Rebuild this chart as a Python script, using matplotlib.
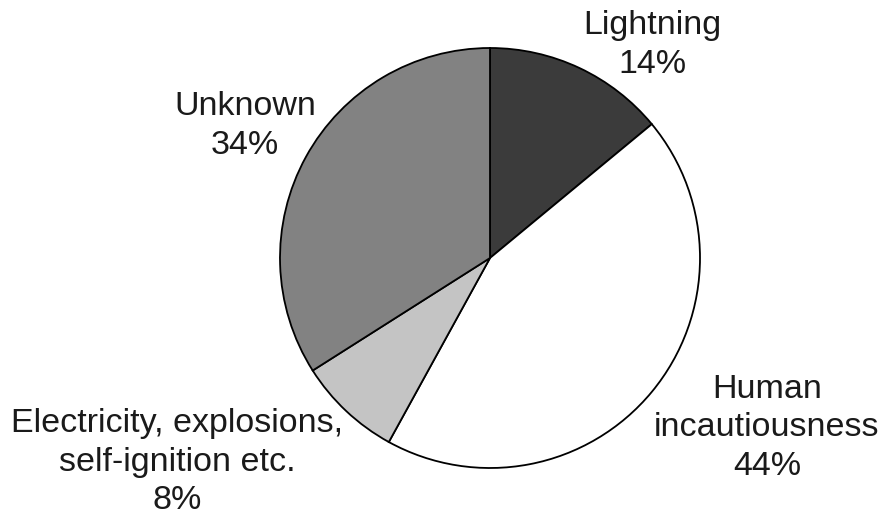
import matplotlib
matplotlib.use("Agg")
import matplotlib.pyplot as plt

labels = ["Lightning", "Human\nincautiousness", "Electricity, explosions,\nself-ignition etc.", "Unknown"]
values = [14, 44, 8, 34]
colors = ["#3b3b3b", "#ffffff", "#c4c4c4", "#828282"]
label_pos = [(652, 45), (767, 428), (177, 462), (245, 126)]  # pixel coords (x, y from top)

W, H = 885, 522
fig = plt.figure(figsize=(W / 100, H / 100), dpi=100)
ax = fig.add_axes([0, 0, 1, 1])
ax.set_xlim(0, W)
ax.set_ylim(0, H)
ax.set_aspect("equal")
ax.axis("off")

ax.pie(values, colors=colors, startangle=90, counterclock=False,
       center=(490, H - 258), radius=210,
       wedgeprops=dict(edgecolor="black", linewidth=1.3))

for lab, v, (x, y) in zip(labels, values, label_pos):
    ax.text(x, H - y, f"{lab}\n{v}%", ha="center", va="center",
            fontsize=24.5, family="Liberation Sans", color="#1a1a1a",
            linespacing=1.3)

ax.set_xlim(0, W)
ax.set_ylim(0, H)
fig.savefig("out.png", dpi=100)
